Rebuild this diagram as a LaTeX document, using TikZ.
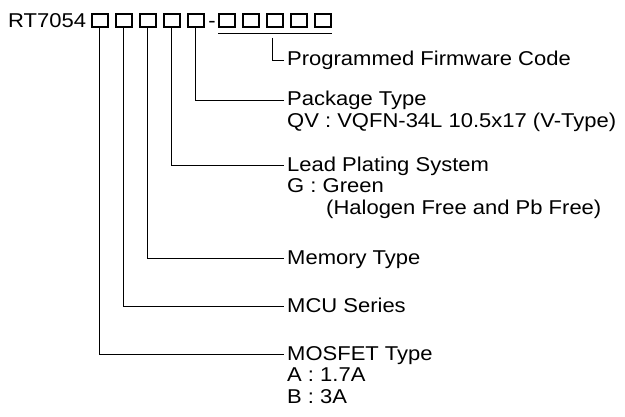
\documentclass[tikz,border=0pt]{standalone}
\usepackage{fontspec}
\setmainfont{Liberation Sans}[FakeStretch=1.1]
\usetikzlibrary{positioning}
\tikzset{
	digit/.style={draw,line width=2pt,line join=miter,minimum width=16pt,minimum height=13.8pt,inner sep=0pt,outer sep=0pt},
	lbl/.style={inner xsep=3pt,inner ysep=0pt,text height=15pt,text depth=3pt,anchor=west},
	lead/.style={line width=0.9pt}
}
\begin{document}
\begin{tikzpicture}[x=1pt,y=-1pt,line join=miter,font=\fontsize{20}{21}\selectfont]
				\useasboundingbox (0,0) rectangle (625,417);
				\node[anchor=base west,inner sep=0pt] (pn) at (8,28) {RT7054};
				\foreach \i in {1,...,5} \node[digit] (b\i) at ({99.7+24*(\i-1)},20.5) {};
				\node[anchor=base,inner sep=0pt] (dash) at (212,28) {-};
				\foreach \i in {1,...,5} \node[digit] (f\i) at ({227.3+24*(\i-1)},20.5) {};
				\draw[line width=1.5pt] ([shift={(-1,6)}]f1.south west) -- ([shift={(1,6)}]f5.south east);
				\path (272.7,38) coordinate (fw);
				\node[lbl] (firm) at (284,60) {Programmed Firmware Code};
				\node[lbl] (pkg) at (284,100) {Package Type};
				\node[lbl,below=3pt of pkg.south west,anchor=north west] (pkg1) {QV : VQFN-34L 10.5x17 (V-Type)};
				\node[lbl] (plate) at (284,165.3) {Lead Plating System};
				\node[lbl,below=3pt of plate.south west,anchor=north west] (plate1) {G : Green};
				\node[lbl,below=3pt of plate1.south west,anchor=north west,xshift=39pt] (plate2) {(Halogen Free and Pb Free)};
				\node[lbl] (mem) at (284,258.5) {Memory Type};
				\node[lbl] (mcu) at (284,306.5) {MCU Series};
				\node[lbl] (fet) at (284,354.3) {MOSFET Type};
				\node[lbl,below=3pt of fet.south west,anchor=north west] (fet1) {A : 1.7A};
				\node[lbl,below=3pt of fet1.south west,anchor=north west] (fet2) {B : 3A};
				\draw[lead] (fw) |- (firm.west);
				\foreach \b/\l in {b5/pkg,b4/plate,b3/mem,b2/mcu,b1/fet} \draw[lead] (\b.south) |- (\l.west);
			\end{tikzpicture}
\end{document}
